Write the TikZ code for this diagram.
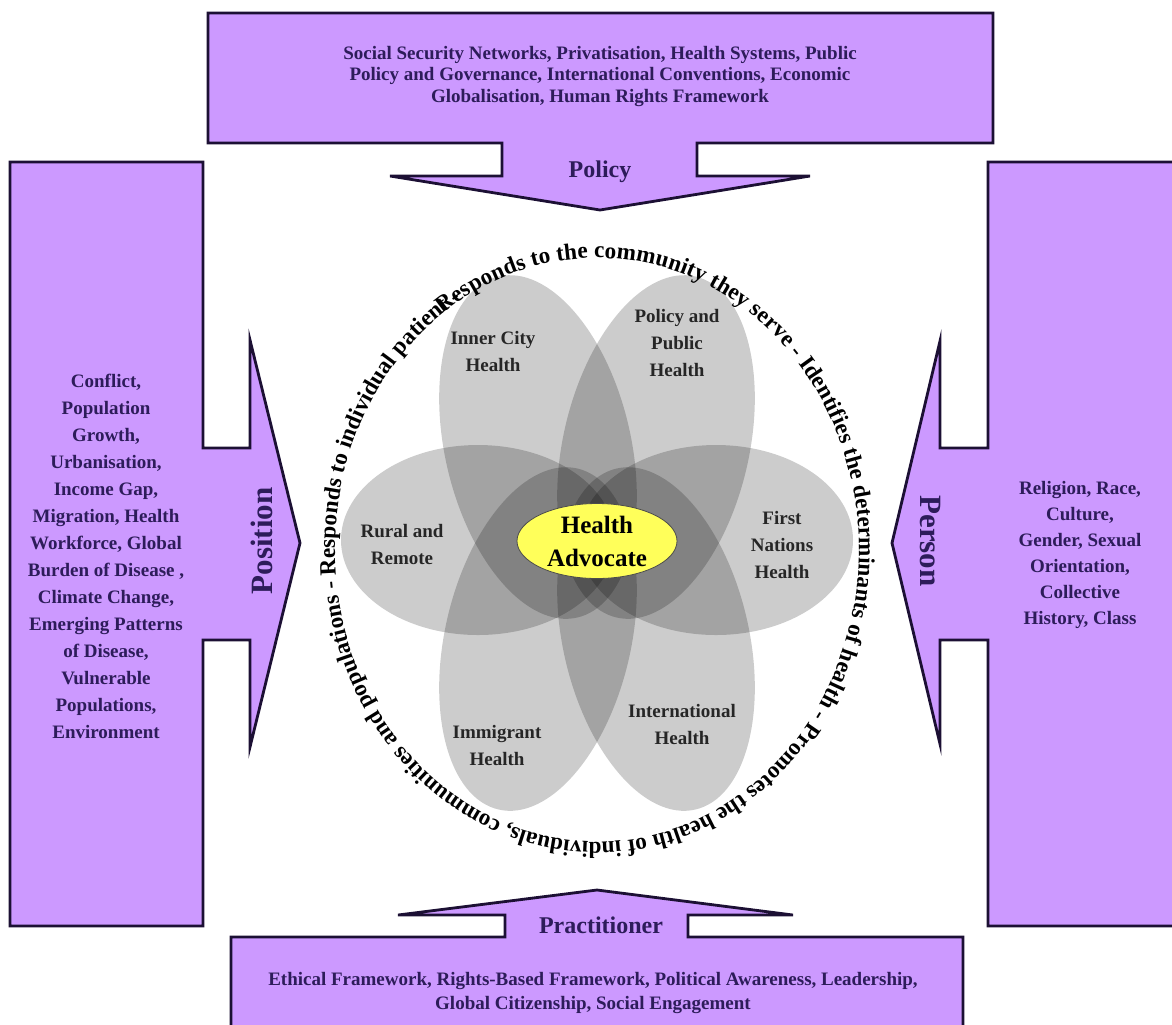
\documentclass[tikz,border=0pt]{standalone}
\usepackage{fontspec}
\setmainfont{Liberation Serif}
\usetikzlibrary{shapes.geometric,decorations.text}

\definecolor{lilac}{RGB}{204,153,255}
\definecolor{ink}{RGB}{28,16,52}
\definecolor{boxink}{RGB}{45,28,90}
\definecolor{sun}{RGB}{255,255,90}

\newcommand\ringfont{\bfseries\fontsize{11.6}{13}\selectfont}

\tikzstyle{frame}=[
    draw=ink,
    line width=1.4pt,
    line join=miter,
    fill=lilac
]
\tikzstyle{petal}=[
    fill=black,
    fill opacity=0.2
]
\tikzstyle{boxlabel}=[
    align=center,
    inner sep=0pt,
    text=boxink,
    font=\bfseries\fontsize{9.5}{13.5}\selectfont
]
\tikzstyle{armlabel}=[
    inner sep=0pt,
    text=boxink,
    font=\bfseries\fontsize{12}{14}\selectfont
]
\tikzstyle{petallabel}=[
    align=center,
    inner sep=0pt,
    text=black!85,
    font=\bfseries\fontsize{9.5}{13.5}\selectfont
]
\tikzstyle{hub}=[
    ellipse,
    draw=black!70,
    thin,
    fill=sun,
    minimum width=80pt,
    minimum height=37.5pt,
    inner sep=0pt,
    align=center,
    font=\bfseries\fontsize{12.5}{16.5}\selectfont
]

\begin{document}
\begin{tikzpicture}[x=0.5pt,y=-0.5pt]
	\useasboundingbox (0,0) rectangle (1172,1024);
	\clip (0,0) rectangle (1172,1024);

	% Frames with their arrows
	\draw[frame] (208,13) -- (993,13) -- (993,143) -- (697,143) -- (697,176) -- (810,176)
		-- (600,210) -- (390,176) -- (502,176) -- (502,143) -- (208,143) -- cycle;
	\draw[frame] (10,162) -- (203,162) -- (203,448) -- (250,448) -- (250,340) -- (300,543)
		-- (250,747) -- (250,640) -- (203,640) -- (203,926) -- (10,926) -- cycle;
	\draw[frame] (1190,162) -- (988,162) -- (988,448) -- (940,448) -- (940,341) -- (892,543)
		-- (940,744) -- (940,640) -- (988,640) -- (988,926) -- (1190,926) -- cycle;
	\draw[frame] (231,1040) -- (231,937) -- (505,937) -- (505,915) -- (398,915) -- (597,890)
		-- (793,915) -- (688,915) -- (688,937) -- (963,937) -- (963,1040) -- cycle;

	% Petals
	\fill[petal] (478,540) ellipse [x radius=68.5pt, y radius=47.5pt];
	\fill[petal] (716,540) ellipse [x radius=68.5pt, y radius=47.5pt];
	\fill[petal, rotate around={13:(538,447)}] (538,447) ellipse [x radius=46.5pt, y radius=87.5pt];
	\fill[petal, rotate around={-13:(656,447)}] (656,447) ellipse [x radius=46.5pt, y radius=87.5pt];
	\fill[petal, rotate around={-13:(538,639)}] (538,639) ellipse [x radius=46.5pt, y radius=87.5pt];
	\fill[petal, rotate around={13:(656,639)}] (656,639) ellipse [x radius=46.5pt, y radius=87.5pt];

	\node (advocate) [hub] at (597,541) {Health\\Advocate};

	% Petal labels
	\node (innercity) [petallabel] at (493,351) {Inner City\\Health};
	\node (publichealth) [petallabel] at (677,343) {Policy and\\Public\\Health};
	\node (rural) [petallabel] at (402,544) {Rural and\\Remote};
	\node (firstnations) [petallabel] at (782,545) {First\\Nations\\Health};
	\node (immigrant) [petallabel] at (497,745) {Immigrant\\Health};
	\node (international) [petallabel] at (682,724) {International\\Health};

	% Arrow labels
	\node (policy) [armlabel] at (600,172) {Policy};
	\node (practitioner) [armlabel] at (601,925) {Practitioner};
	\node (position) [armlabel, rotate=90, font=\bfseries\fontsize{15.5}{17}\selectfont] at (262,541) {Position};
	\node (person) [armlabel, rotate=-90, font=\bfseries\fontsize{15.5}{17}\selectfont] at (930,541) {Person};

	% Frame texts
	\node (policytext) [boxlabel, font=\bfseries\fontsize{9.5}{10.75}\selectfont] at (600,76)
		{Social Security Networks, Privatisation, Health Systems, Public\\
		 Policy and Governance, International Conventions, Economic\\
		 Globalisation, Human Rights Framework};
	\node (practitionertext) [boxlabel, font=\bfseries\fontsize{9.5}{12}\selectfont] at (593,993)
		{Ethical Framework, Rights-Based Framework, Political Awareness, Leadership,\\
		 Global Citizenship, Social Engagement};
	\node (positiontext) [boxlabel] at (106,556)
		{Conflict,\\Population\\Growth,\\Urbanisation,\\Income Gap,\\Migration, Health\\
		 Workforce, Global\\Burden of Disease ,\\Climate Change,\\Emerging Patterns\\
		 of Disease,\\Vulnerable\\Populations,\\Environment};
	\node (persontext) [boxlabel, font=\bfseries\fontsize{9.5}{13}\selectfont] at (1080,555)
		{Religion, Race,\\Culture,\\Gender, Sexual\\Orientation,\\Collective\\History, Class};

	% Ring of roles
	\coordinate (ring) at (597,550);
	\path[decorate, decoration={text along path, text align={fit to path},
		text={|\ringfont|Responds to the community they serve - Identifies the determinants of health - Promotes the health of individuals, communities and populations - Responds to individual patient -}}]
		(ring) ++(126:131pt and 146pt) arc[start angle=126, end angle=-239, x radius=131pt, y radius=146pt];
\end{tikzpicture}
\end{document}
